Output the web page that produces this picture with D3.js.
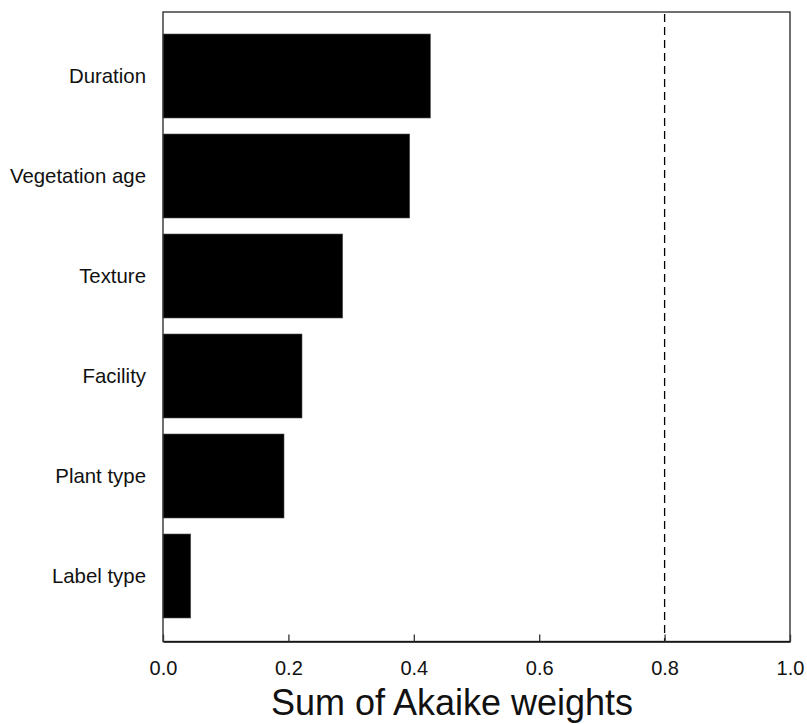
<!DOCTYPE html>
<html>
<head>
<meta charset="utf-8">
<script src="https://cdn.jsdelivr.net/npm/d3@7"></script>
<style>
  html, body { margin: 0; padding: 0; background: #fff; }
  text { font-family: "Liberation Sans", Arial, sans-serif; fill: #111; }
</style>
</head>
<body>
<svg id="chart" width="807" height="724"></svg>
<script>
// Predictor variables and their summed Akaike weights
const categories = ["Duration", "Vegetation age", "Texture", "Facility", "Plant type", "Label type"];
const weights = [0.4265, 0.3935, 0.2866, 0.2217, 0.193, 0.0442];
const xTicks = [0.0, 0.2, 0.4, 0.6, 0.8, 1.0];
const threshold = 0.8;
const xTitle = "Sum of Akaike weights";

const svg = d3.select("#chart");
const plotLeft = 163, plotRight = 790, plotTop = 12, plotBottom = 641.5;

const x = d3.scaleLinear().domain([0, 1]).range([plotLeft, plotRight]);
const y = d3.scaleBand()
  .domain(categories)
  .range([26, 626])
  .paddingInner(0.16)
  .paddingOuter(0.08);

// Bars
svg.append("g")
  .selectAll("rect")
  .data(categories.map((c, i) => ({ c, v: weights[i] })))
  .join("rect")
  .attr("x", x(0))
  .attr("y", d => y(d.c))
  .attr("width", d => x(d.v) - x(0))
  .attr("height", y.bandwidth())
  .attr("fill", "#000")
  .attr("stroke", "#555")
  .attr("stroke-width", 0.6);

// Dashed reference line at the importance threshold
svg.append("line")
  .attr("x1", x(threshold)).attr("x2", x(threshold))
  .attr("y1", plotTop + 2).attr("y2", plotBottom)
  .attr("stroke", "#000")
  .attr("stroke-width", 1.3)
  .attr("stroke-dasharray", "8,5");

// Frame around the plotting area
svg.append("rect")
  .attr("x", plotLeft).attr("y", plotTop)
  .attr("width", plotRight - plotLeft).attr("height", plotBottom - plotTop)
  .attr("fill", "none")
  .attr("stroke", "#333")
  .attr("stroke-width", 1.4);

// Bottom axis with inward ticks
const xAxis = d3.axisBottom(x)
  .tickValues(xTicks)
  .tickFormat(d3.format(".1f"))
  .tickSizeInner(-7)
  .tickSizeOuter(0)
  .tickPadding(0);

const gx = svg.append("g")
  .attr("transform", `translate(0,${plotBottom})`)
  .call(xAxis);
gx.select(".domain").attr("stroke", "#111").attr("stroke-width", 1.6);
gx.selectAll(".tick line").attr("stroke", "#333").attr("stroke-width", 1.3);
gx.selectAll(".tick text")
  .attr("y", 33)
  .attr("dy", null)
  .style("font-family", "'Liberation Sans', Arial, sans-serif")
  .style("font-size", "20px")
  .attr("fill", "#111");

// Category labels
svg.append("g")
  .selectAll("text")
  .data(categories)
  .join("text")
  .attr("x", 146)
  .attr("y", d => y(d) + y.bandwidth() / 2)
  .attr("text-anchor", "end")
  .attr("dominant-baseline", "central")
  .style("font-size", "20.4px")
  .text(d => d);

// Axis title
svg.append("text")
  .attr("x", 452)
  .attr("y", 715)
  .attr("text-anchor", "middle")
  .style("font-size", "36px")
  .text(xTitle);
</script>
</body>
</html>
